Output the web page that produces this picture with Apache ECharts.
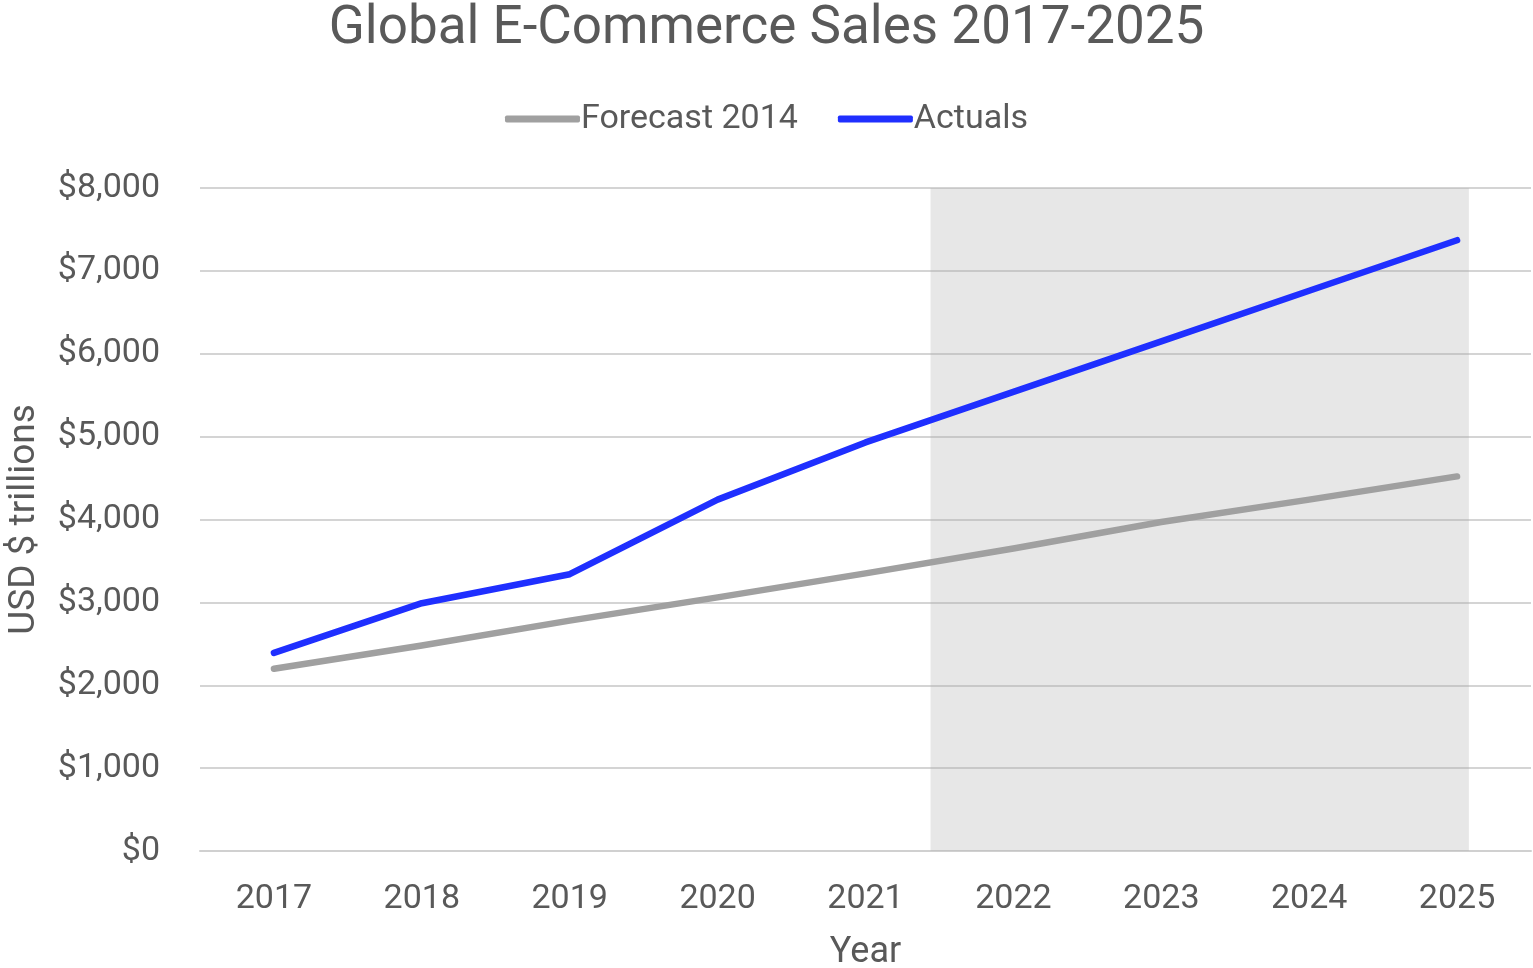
<!DOCTYPE html>
<html>
<head>
<meta charset="utf-8">
<title>Global E-Commerce Sales 2017-2025</title>
<script src="https://cdn.jsdelivr.net/npm/echarts@6/dist/echarts.min.js"></script>
<style>
  html, body { margin: 0; padding: 0; background: #ffffff; }
  #chart { width: 1533px; height: 968px; }
</style>
</head>
<body>
<div id="chart"></div>
<script>
// Years on the category axis
const years = ['2017', '2018', '2019', '2020', '2021', '2022', '2023', '2024', '2025'];
// 2014 forecast of global e-commerce sales (USD)
const forecast2014 = [2200, 2480, 2780, 3060, 3350, 3650, 3970, 4240, 4520];
// Actual / latest estimated sales (USD)
const actuals = [2390, 2990, 3340, 4240, 4930, 5540, 6150, 6760, 7370];
// Y-axis ticks
const yTicks = [0, 1000, 2000, 3000, 4000, 5000, 6000, 7000, 8000];
// Shaded projection band, in category-index units
const shadeFrom = 4.44;
const shadeTo = 8.08;

const textColor = '#595959';
const font = 'Roboto, "Liberation Sans", Arial, sans-serif';

const chart = echarts.init(document.getElementById('chart'), null, { renderer: 'canvas' });

chart.setOption({
  backgroundColor: '#ffffff',
  animation: false,
  title: {
    text: 'Global E-Commerce Sales 2017-2025',
    left: 'center',
    top: -2,
    textStyle: { fontFamily: font, fontSize: 53, fontWeight: 'normal', color: textColor }
  },
  legend: {
    data: ['Forecast 2014', 'Actuals'],
    top: 97,
    left: 'center',
    icon: 'roundRect',
    itemWidth: 75,
    itemHeight: 7,
    itemGap: 40,
    textStyle: { fontFamily: font, fontSize: 34, color: textColor, padding: [0, 0, 0, -4] }
  },
  grid: { left: 200, right: 2, top: 188, bottom: 117, containLabel: false, outerBoundsMode: 'none' },
  xAxis: [
    {
      type: 'category',
      data: years,
      boundaryGap: true,
      name: 'Year',
      nameLocation: 'middle',
      nameGap: 84,
      nameTextStyle: { fontFamily: font, fontSize: 36, color: textColor },
      axisLine: { show: true, lineStyle: { color: '#d0d0d0', width: 2 } },
      axisTick: { show: false },
      axisLabel: { fontFamily: font, fontSize: 34, color: textColor, margin: 31 }
    },
    {
      type: 'value',
      min: -0.5,
      max: 8.5,
      show: false
    }
  ],
  yAxis: {
    type: 'value',
    min: yTicks[0],
    max: yTicks[yTicks.length - 1],
    interval: yTicks[1] - yTicks[0],
    name: 'USD $ trillions',
    nameLocation: 'middle',
    nameGap: 157,
    nameRotate: 90,
    nameTextStyle: { fontFamily: font, fontSize: 37, color: textColor },
    axisLine: { show: false },
    axisTick: { show: false },
    axisLabel: {
      fontFamily: font, fontSize: 34, color: textColor, margin: 40,
      formatter: v => '$' + v.toLocaleString('en-US')
    },
    splitLine: { lineStyle: { color: '#d4d4d4', width: 2 } }
  },
  series: [
    {
      name: 'Forecast 2014',
      type: 'line',
      data: forecast2014,
      symbol: 'none',
      z: 2,
      lineStyle: { color: '#a0a0a0', width: 6.5, cap: 'round', join: 'round' },
      itemStyle: { color: '#a0a0a0' }
    },
    {
      name: 'Actuals',
      type: 'line',
      data: actuals,
      symbol: 'none',
      z: 2,
      lineStyle: { color: '#1f2fff', width: 6.5, cap: 'round', join: 'round' },
      itemStyle: { color: '#1f2fff' }
    },
    {
      name: 'Projection',
      type: 'line',
      xAxisIndex: 1,
      data: [],
      z: 5,
      silent: true,
      markArea: {
        silent: true,
        itemStyle: { color: 'rgba(172,172,172,0.29)' },
        data: [[
          { xAxis: shadeFrom, yAxis: yTicks[yTicks.length - 1] },
          { xAxis: shadeTo, yAxis: yTicks[0] }
        ]]
      }
    }
  ]
});
</script>
</body>
</html>
